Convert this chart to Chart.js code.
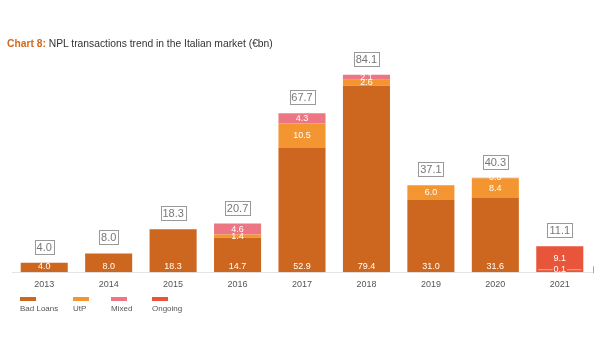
<!DOCTYPE html>
<html>
<head>
<meta charset="utf-8">
<script src="https://cdn.jsdelivr.net/npm/chart.js@4/dist/chart.umd.min.js"></script>
<style>
    body { margin: 0; background: #fff; font-family: "Liberation Sans", Arial, sans-serif; }
    #wrap { position: relative; width: 600px; height: 360px; }
    #title { position: absolute; left: 7px; top: 38px; font-size: 10.3px; color: #333; white-space: nowrap; }
    #title b { color: #d2691e; }
    #legend { position: absolute; left: 20px; top: 297px; font-size: 8px; color: #555; }
    .item { position: absolute; top: 0; white-space: nowrap; }
    .item span { display: block; width: 16px; height: 4px; margin-bottom: 3px; }
    canvas { position: absolute; left: 0; top: 0; }
</style>
</head>
<body>
<div id="wrap">
    <canvas id="npl" width="600" height="360"></canvas>
    <div id="title"><b>Chart 8:</b> NPL transactions trend in the Italian market (€bn)</div>
    <div id="legend"></div>
</div>
<script>
const years = ['2013', '2014', '2015', '2016', '2017', '2018', '2019', '2020', '2021'];
const badLoans = [4.0, 8.0, 18.3, 14.7, 52.9, 79.4, 31.0, 31.6, 0];
const utp = [0, 0, 0, 1.4, 10.5, 2.6, 6.0, 8.4, 0.1];
const mixed = [0, 0, 0, 4.6, 4.3, 2.1, 0.1, 0.3, 0];
const ongoing = [0, 0, 0, 0, 0, 0, 0, 0, 11.0];
const totals = ['4.0', '8.0', '18.3', '20.7', '67.7', '84.1', '37.1', '40.3', '11.1'];

// text shown inside each segment
const badLabels = ['4.0', '8.0', '18.3', '14.7', '52.9', '79.4', '31.0', '31.6', ''];
const utpLabels = ['', '', '', '1.4', '10.5', '2.6', '6.0', '8.4', '0.1'];
const mixedLabels = ['', '', '', '4.6', '4.3', '2.1', '', '0.3', ''];
const ongoingLabels = ['', '', '', '', '', '', '', '', '9.1'];

const colors = {
    bad: '#cd661e',
    utp: '#f39632',
    mixed: '#ec7683',
    ongoing: '#e8553a'
};

const seriesNames = ['Bad Loans', 'UtP', 'Mixed', 'Ongoing'];
const legendX = [0, 53, 91, 132];
const legend = document.getElementById('legend');
[colors.bad, colors.utp, colors.mixed, colors.ongoing].forEach((c, i) => {
    const d = document.createElement('div');
    d.className = 'item';
    d.style.left = legendX[i] + 'px';
    d.innerHTML = '<span style="background:' + c + '"></span>' + seriesNames[i];
    legend.appendChild(d);
});

const segLabels = [badLabels, utpLabels, mixedLabels, ongoingLabels];

const labelPlugin = {
    id: 'labels',
    afterDatasetsDraw(chart) {
        const ctx = chart.ctx;
        const area = chart.chartArea;
        ctx.save();
        ctx.font = '9px "Liberation Sans", Arial, sans-serif';
        ctx.textAlign = 'center';
        ctx.textBaseline = 'middle';
        chart.data.datasets.forEach((ds, di) => {
            const meta = chart.getDatasetMeta(di);
            meta.data.forEach((bar, i) => {
                const txt = segLabels[di][i];
                if (!txt) return;
                let y = (bar.y + bar.base) / 2;
                if (di === 0) y = bar.base - 6;
                if (di === 1 && i === 8) {
                    y = bar.base - 3;
                    const w = ctx.measureText(txt).width;
                    ctx.strokeStyle = '#f7b06a';
                    ctx.lineWidth = 1;
                    ctx.beginPath();
                    ctx.moveTo(bar.x - bar.width / 2 + 2, y + 0.5);
                    ctx.lineTo(bar.x - w / 2 - 1, y + 0.5);
                    ctx.moveTo(bar.x + w / 2 + 1, y + 0.5);
                    ctx.lineTo(bar.x + bar.width / 2 - 2, y + 0.5);
                    ctx.stroke();
                }
                if (di === 3) y = bar.y + 12;
                ctx.fillStyle = '#fff';
                ctx.fillText(txt, bar.x, y);
            });
        });

        // total boxes above each bar
        const top = chart.getDatasetMeta(3).data;
        ctx.font = '11px "Liberation Sans", Arial, sans-serif';
        top.forEach((bar, i) => {
            const y = Math.round(chart.scales.y.getPixelForValue(parseFloat(totals[i])) - 16);
            const w = Math.round(ctx.measureText(totals[i]).width + 4);
            const x0 = Math.round(bar.x - w / 2);
            ctx.fillStyle = '#fff';
            ctx.fillRect(x0, y - 7, w, 14);
            ctx.strokeStyle = '#999';
            ctx.lineWidth = 1;
            ctx.strokeRect(x0 + 0.5, y - 6.5, w, 14);
            ctx.fillStyle = '#777';
            ctx.fillText(totals[i], bar.x, y + 1);
        });

        // small end tick on the baseline
        ctx.strokeStyle = '#aaa';
        ctx.beginPath();
        ctx.moveTo(area.right + 1.5, area.bottom - 6);
        ctx.lineTo(area.right + 1.5, area.bottom + 1);
        ctx.stroke();
        ctx.restore();
    }
};

new Chart(document.getElementById('npl'), {
    type: 'bar',
    data: {
        labels: years,
        datasets: [
            { label: 'Bad Loans', data: badLoans, backgroundColor: colors.bad },
            { label: 'UtP', data: utp, backgroundColor: colors.utp },
            { label: 'Mixed', data: mixed, backgroundColor: colors.mixed },
            { label: 'Ongoing', data: ongoing, backgroundColor: colors.ongoing }
        ]
    },
    options: {
        responsive: false,
        animation: false,
        layout: { padding: { left: 12, right: 8, top: 61, bottom: 63 } },
        datasets: { bar: { categoryPercentage: 1, barPercentage: 0.73 } },
        plugins: {
            legend: { display: false },
            tooltip: { enabled: false }
        },
        scales: {
            x: {
                stacked: true,
                grid: { display: false, drawTicks: false },
                border: { display: true, color: '#e4e4e4' },
                ticks: {
                    color: '#555',
                    padding: 7,
                    font: { size: 9, family: '"Liberation Sans", Arial, sans-serif' }
                }
            },
            y: {
                stacked: true,
                display: false,
                min: 0,
                max: 90
            }
        }
    },
    plugins: [labelPlugin]
});
</script>
</body>
</html>
